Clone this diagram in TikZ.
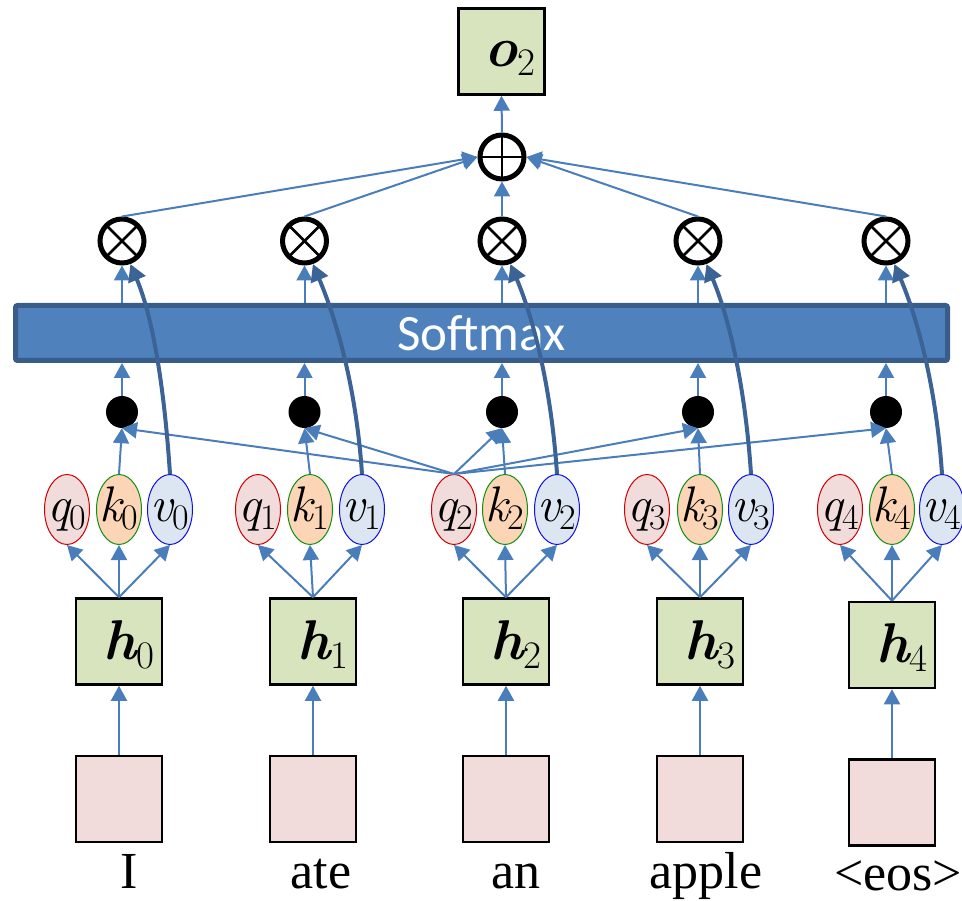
\RequirePackage{fix-cm}
\documentclass[tikz,border=0pt]{standalone}
\usepackage{fontspec}
\newfontfamily\calib{Carlito}
\newfontfamily\timesf{Liberation Serif}
\usetikzlibrary{arrows.meta,shapes.geometric}
\newcommand{\elab}[2]{\makebox[0pt]{\fontsize{50}{56}\selectfont\itshape #1\raisebox{-8pt}{\upshape\fontsize{36}{40}\selectfont #2}}}
\newcommand{\blab}[2]{{\fontsize{56}{60}\selectfont\bfseries\itshape #1}\raisebox{-9pt}{\fontsize{39}{44}\selectfont #2}}
\definecolor{lblue}{HTML}{4A7EBB}
\definecolor{dblue}{HTML}{3B6396}
\definecolor{smfill}{HTML}{4F81BD}
\definecolor{smdraw}{HTML}{385D8A}
\definecolor{hgreen}{HTML}{D7E4BD}
\definecolor{pinkf}{HTML}{F2DCDB}
\definecolor{kf}{HTML}{FBD5B5}
\definecolor{vf}{HTML}{DCE6F2}
\definecolor{qborder}{HTML}{D00000}
\definecolor{kborder}{HTML}{109010}
\definecolor{vborder}{HTML}{1010E0}
\tikzset{
  ln/.style={draw=lblue, line width=2pt, -{Triangle[width=16pt,length=15pt]}},
  vln/.style={draw=dblue, line width=4pt, -{Triangle[width=18pt,length=17pt]}},
  sqbox/.style={rectangle, draw=black, line width=2.5pt, minimum size=86pt, inner sep=0pt},
  hbox/.style={sqbox, fill=hgreen},
  pbox/.style={sqbox, fill=pinkf},
  lab/.style={inner sep=0pt},
  ell/.style={ellipse, line width=1pt, minimum width=45pt, minimum height=70pt, inner sep=0pt, text height=34pt, text depth=10pt},
  qell/.style={ell, draw=qborder, fill=pinkf},
  kell/.style={ell, draw=kborder, fill=kf},
  vell/.style={ell, draw=vborder, fill=vf},
  dotc/.style={circle, fill=black, minimum size=32pt, inner sep=0pt},
  opc/.style={circle, draw=black, fill=white, line width=5pt, minimum size=44pt, inner sep=0pt},
  otc/.style={opc, path picture={
      \draw[line width=2.5pt] (path picture bounding box.north west) -- (path picture bounding box.south east);
      \draw[line width=2.5pt] (path picture bounding box.north east) -- (path picture bounding box.south west);}},
  plc/.style={opc, path picture={
      \draw[line width=2.5pt] (path picture bounding box.north) -- (path picture bounding box.south);
      \draw[line width=2.5pt] (path picture bounding box.west) -- (path picture bounding box.east);}},
  smbar/.style={rectangle, draw=smdraw, fill=smfill, line width=5pt, rounded corners=2pt,
      minimum width=932pt, minimum height=55pt, inner sep=0pt, text=white,
      font=\calib\fontsize{51}{60}\selectfont},
  word/.style={font=\timesf\fontsize{52}{60}\selectfont, inner sep=0pt, anchor=base},
}
\begin{document}
\begin{tikzpicture}[x=1pt,y=-1pt]
\useasboundingbox (0,0) rectangle (962,901);
\node[smbar] (sm) at (481.5,333) {Softmax};
\node[plc] (pl) at (502,157) {};
\node[hbox] (o2) at (501.5,51.5) {};
\node[lab,anchor=base] (o2t) at (510,67) {\blab{o}{2}};
\draw[ln] (pl.north) -- (o2.south);
\foreach \i/\c/\q/\k/\v/\d/\e in {0/119/67/119/170/122/0, 1/313/258/310/362/304.5/0, 2/506/454/505/557/502/0, 3/700/647/700/751/698/0, 4/892/840/892/942/886/3.5}{
  \node[pbox] (p\i) at (\c,799+\e) {};
  \node[hbox] (h\i) at (\c,641.5+\e) {};
  \node[lab,anchor=base] (ht\i) at (\c+10,659+\e) {\blab{h}{\i}};
  \node[qell] (q\i) at (\q,509.5) {\elab{q}{\i}};
  \node[kell] (k\i) at (\k,509.5) {\elab{k}{\i}};
  \node[vell] (v\i) at (\v,509.5) {\elab{v}{\i}};
  \node[dotc] (d\i) at (\d,412) {};
  \node[otc] (x\i) at (\d,241) {};
  \draw[ln] (p\i) -- (h\i);
  \draw[ln] (h\i.north) -- (q\i.south);
  \draw[ln] (h\i.north) -- (k\i.south);
  \draw[ln] (h\i.north) -- (v\i.south);
  \draw[ln] (k\i.north) -- (d\i.south);
  \draw[ln] (d\i.north) -- (d\i.north |- sm.south);
  \draw[ln] (x\i.south |- sm.north) -- (x\i.south);
}
\foreach \i in {0,...,4}{
  \draw[ln] (q2.north) -- (d\i.south);
}
\foreach \i in {0,...,4}{
  \draw[vln] (v\i.north) .. controls +(-6,-90) and +(22,52) .. (x\i.-70);
}
\draw[ln] (x0.north) -- (pl.west);
\draw[ln] (x1.north) -- (pl.west);
\draw[ln] (x2.north) -- (pl.south);
\draw[ln] (x3.north) -- (pl.east);
\draw[ln] (x4.north) -- (pl.east);
\node[word] (w0) at (129,888) {I};
\node[word] (w1) at (321,888) {ate};
\node[word] (w2) at (516,888) {an};
\node[word] (w3) at (706,888) {apple};
\node[word] (w4) at (898,890) {<eos>};
\end{tikzpicture}
\end{document}
